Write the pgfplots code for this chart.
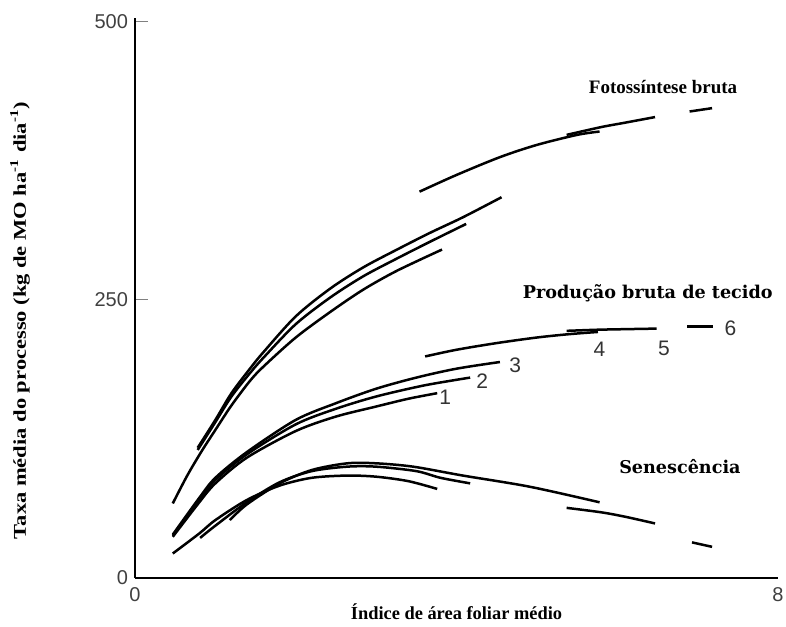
\documentclass[border=0pt]{standalone}
\usepackage{fontspec}
\setmainfont{Liberation Serif}
\newfontfamily\numfont{Liberation Sans}
\newfontfamily\widefont{DejaVu Serif}
\usepackage{pgfplots}
\pgfplotsset{compat=1.18}

\begin{document}
\begin{tikzpicture}
\useasboundingbox (-67.5pt,-24pt) rectangle (325.5pt,289pt);
\begin{axis}[
  at={(0,0)}, anchor=south west,
  scale only axis, width=321.5pt, height=280pt,
  xmin=0, xmax=8, ymin=0, ymax=503,
  axis x line*=bottom, axis y line*=left,
  axis line style={line width=1.4pt, -},
  xtick={0,8}, ytick={0,250,500},
  tick align=inside,
  x tick style={draw=none},
  y tick style={line width=0.6pt},
  major tick length=6.5pt,
  /pgf/number format/assume math mode=true,
  tick label style={font=\numfont\fontsize{10}{12}\selectfont, text=black!75},
  xticklabel style={yshift=-1pt},
  yticklabel style={xshift=0pt},
  clip=false,
  every axis plot post/.append style={black, solid, line width=1.25pt, smooth, mark=none},
]
% Fotossíntese bruta
\addplot coordinates {(0.47,67) (0.65,92) (0.83,114) (1.0,133) (1.2,155) (1.43,177) (1.6,190) (2.0,216) (2.43,239) (2.84,259) (3.26,276) (3.82,295)};
\addplot coordinates {(0.78,115) (1.0,140) (1.2,163) (1.43,184) (1.6,198) (2.0,228) (2.43,252) (2.84,271) (3.26,287) (3.67,302) (4.12,318)};
\addplot coordinates {(0.78,117) (1.0,142) (1.2,166) (1.43,188) (1.6,203) (2.0,235) (2.43,260) (2.84,279) (3.26,295) (3.67,310) (4.08,324) (4.56,342)};
\addplot coordinates {(3.54,347) (4.0,362) (4.54,378) (5.0,389) (5.5,398) (5.78,401)};
\addplot coordinates {(5.37,398) (5.8,405) (6.1,409) (6.47,414)};
\addplot coordinates {(6.9,419) (7.18,422)};
% Produção bruta de tecido
\addplot coordinates {(0.47,37) (0.8,68) (1.0,85) (1.39,108) (2.0,132) (2.5,145) (3.0,154) (3.4,161) (3.76,166)};
\addplot coordinates {(0.47,38) (0.8,70) (1.0,88) (1.39,111) (2.0,138) (2.5,152) (3.0,163) (3.6,173) (4.17,180)};
\addplot coordinates {(0.47,39) (0.8,72) (1.0,90) (1.39,113) (2.0,142) (2.5,157) (3.0,170) (3.5,180) (4.0,188) (4.54,194)};
\addplot coordinates {(3.61,199) (4.0,205) (4.5,211) (5.0,216) (5.4,219) (5.76,221)};
\addplot coordinates {(5.37,222) (5.76,223) (6.1,223.5) (6.49,224)};
\addplot coordinates {(6.87,226) (7.19,226)};
% Senescência
\addplot coordinates {(0.47,22) (0.8,40) (1.0,52) (1.39,70) (1.8,83) (2.2,90) (2.64,92) (3.0,91) (3.4,87) (3.76,80)};
\addplot coordinates {(0.81,36) (1.0,47) (1.39,68) (1.8,86) (2.2,96) (2.64,100) (3.0,100) (3.5,96) (3.8,90) (4.17,85)};
\addplot coordinates {(1.18,52) (1.39,66) (1.8,85) (2.2,97) (2.64,103) (3.0,103) (3.46,100) (4.08,92) (4.91,82) (5.78,68)};
\addplot coordinates {(5.37,63) (5.8,59) (6.1,55) (6.47,49)};
\addplot coordinates {(6.93,32) (7.18,28)};
% labels
\node[font=\bfseries\fontsize{9.5}{11}\selectfont] at (axis cs:6.57,441) {Fotossíntese bruta};
\node[font=\widefont\bfseries\fontsize{8.8}{11}\selectfont] at (axis cs:6.38,256) {Produção bruta de tecido};
\node[font=\widefont\bfseries\fontsize{8.8}{11}\selectfont] at (axis cs:6.78,100) {Senescência};
\node[font=\numfont\fontsize{10.5}{12}\selectfont, text=black!80] at (axis cs:3.86,162) {1};
\node[font=\numfont\fontsize{10.5}{12}\selectfont, text=black!80] at (axis cs:4.32,177) {2};
\node[font=\numfont\fontsize{10.5}{12}\selectfont, text=black!80] at (axis cs:4.73,191) {3};
\node[font=\numfont\fontsize{10.5}{12}\selectfont, text=black!80] at (axis cs:5.78,205) {4};
\node[font=\numfont\fontsize{10.5}{12}\selectfont, text=black!80] at (axis cs:6.58,206) {5};
\node[font=\numfont\fontsize{10.5}{12}\selectfont, text=black!80] at (axis cs:7.41,224) {6};
\end{axis}
\node[font=\bfseries\fontsize{9.2}{11}\selectfont] at (160.75pt,-17pt) {Índice de área foliar médio};
\node[font=\bfseries\fontsize{9}{11}\selectfont, rotate=90] at (-57.5pt,128.8pt) {\scalebox{1.25}[1]{Taxa média do processo (kg de MO ha\textsuperscript{-1} dia\textsuperscript{-1})}};
\end{tikzpicture}
\end{document}
